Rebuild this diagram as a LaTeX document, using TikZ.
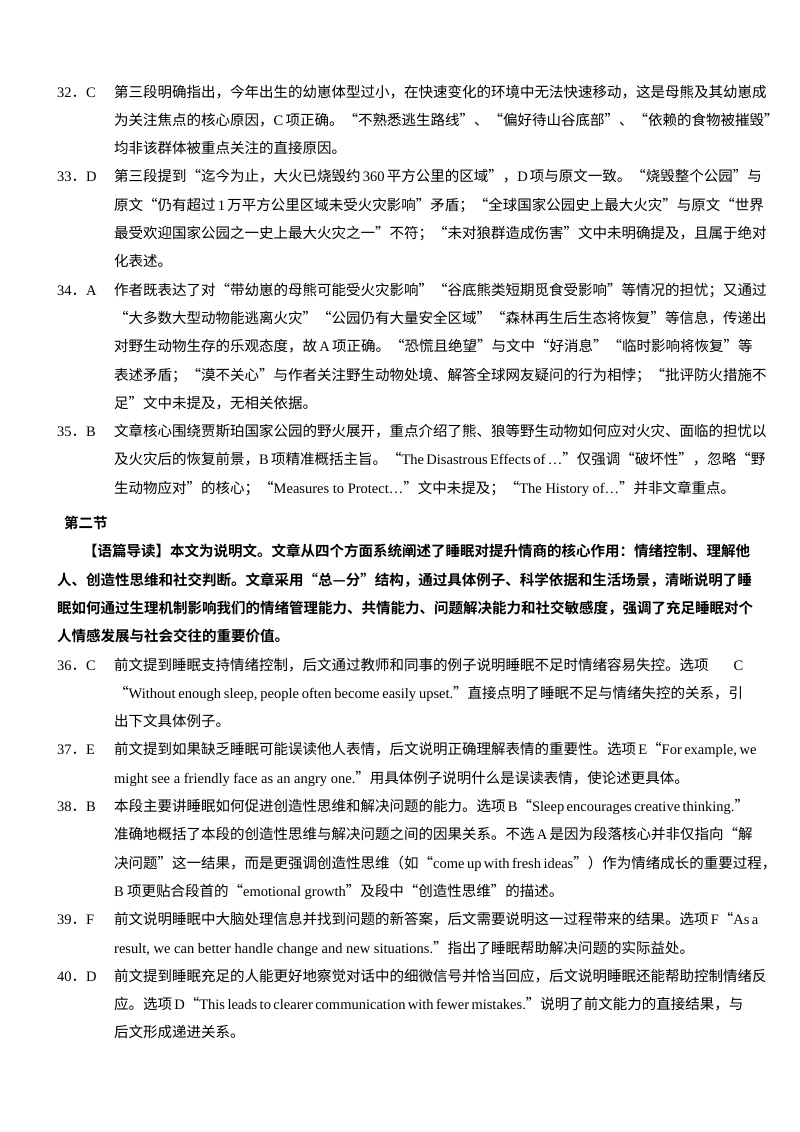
\documentclass[tikz,border=0pt]{standalone}
\usepackage{fontspec}
\setmainfont{Noto Sans CJK SC}[BoldFont={Noto Sans CJK SC Bold}]
\newfontfamily\en{Liberation Serif}
\XeTeXinterchartokenstate=1
\XeTeXinterchartoks 1 1 = {\hskip 0pt plus 1fil\relax}
\XeTeXinterchartoks 1 2 = {\hskip 0pt plus 1fil\relax}
\XeTeXinterchartoks 1 3 = {\hskip 0pt plus 1fil\relax}
\XeTeXinterchartoks 2 1 = {\hskip 0pt plus 1fil\relax}
\XeTeXinterchartoks 3 1 = {\hskip 0pt plus 1fil\relax}
\XeTeXinterchartoks 3 2 = {\hskip 0pt plus 1fil\relax}
\XeTeXinterchartoks 3 3 = {\hskip 0pt plus 1fil\relax}
\XeTeXinterchartoks 2 2 = {\hskip 0pt plus 1fil\relax}
\XeTeXinterchartoks 0 1 = {\hskip 0pt plus 1fil\relax}
\XeTeXinterchartoks 1 0 = {\hskip 0pt plus 1fil\relax}
\newcommand\J[1]{\makebox[629pt][s]{#1}}
\newcommand\JG[1]{\makebox[686pt][s]{#1}}
\newcommand\JF[1]{\makebox[660pt][s]{#1}}
\newcommand\qn[2]{{\en #1}．{\en #2}}
\tikzset{ln/.style={anchor=base west,inner sep=0pt,font=\fontsize{14.5}{17}\selectfont},
 bl/.style={ln,font=\fontsize{14.5}{17}\selectfont\bfseries}}
\begin{document}
\begin{tikzpicture}[x=1pt,y=-1pt]
\useasboundingbox (0,0) rectangle (800,1132);
\node[ln] (n32) at (57,97) {\qn{32}{C}};
\node[ln] (a1) at (114,97) {\J{第三段明确指出，今年出生的幼崽体型过小，在快速变化的环境中无法快速移动，这是母熊及其幼崽成}};
\node[ln] (a2) at (114,125.3) {\J{为关注焦点的核心原因，{\en C} 项正确。“不熟悉逃生路线”、“偏好待山谷底部”、“依赖的食物被摧毁”}};
\node[ln] (a3) at (114,153.6) {均非该群体被重点关注的直接原因。};
\node[ln] (n33) at (57,181.9) {\qn{33}{D}};
\node[ln] (b1) at (114,181.9) {\J{第三段提到“迄今为止，大火已烧毁约 {\en 360} 平方公里的区域”，{\en D} 项与原文一致。“烧毁整个公园”与}};
\node[ln] (b2) at (114,210.2) {\J{原文“仍有超过 {\en 1} 万平方公里区域未受火灾影响”矛盾；“全球国家公园史上最大火灾”与原文“世界}};
\node[ln] (b3) at (114,238.5) {\J{最受欢迎国家公园之一史上最大火灾之一”不符；“未对狼群造成伤害”文中未明确提及，且属于绝对}};
\node[ln] (b4) at (114,266.8) {化表述。};
\node[ln] (n34) at (57,295.1) {\qn{34}{A}};
\node[ln] (c1) at (114,295.1) {\J{作者既表达了对“带幼崽的母熊可能受火灾影响”“谷底熊类短期觅食受影响”等情况的担忧；又通过}};
\node[ln] (c2) at (114,323.4) {\J{“大多数大型动物能逃离火灾”“公园仍有大量安全区域”“森林再生后生态将恢复”等信息，传递出}};
\node[ln] (c3) at (114,351.7) {\J{对野生动物生存的乐观态度，故 {\en A} 项正确。“恐慌且绝望”与文中“好消息”“临时影响将恢复”等}};
\node[ln] (c4) at (114,380) {\J{表述矛盾；“漠不关心”与作者关注野生动物处境、解答全球网友疑问的行为相悖；“批评防火措施不}};
\node[ln] (c5) at (114,408.3) {足”文中未提及，无相关依据。};
\node[ln] (n35) at (57,436.6) {\qn{35}{B}};
\node[ln] (d1) at (114,436.6) {\J{文章核心围绕贾斯珀国家公园的野火展开，重点介绍了熊、狼等野生动物如何应对火灾、面临的担忧以}};
\node[ln] (d2) at (114,464.9) {\J{及火灾后的恢复前景，{\en B} 项精准概括主旨。“{\en The Disastrous Effects of …}”仅强调“破坏性”，忽略“野}};
\node[ln] (d3) at (114,493.2) {生动物应对”的核心；“{\en Measures to Protect…}”文中未提及；“{\en The History of…}”并非文章重点。};
\node[bl] (sec) at (64,528.5) {第二节};
\node[bl] (g1) at (83,556.8) {\JF{【语篇导读】本文为说明文。文章从四个方面系统阐述了睡眠对提升情商的核心作用：情绪控制、理解他}};
\node[bl] (g2) at (57,585.1) {\JG{人、创造性思维和社交判断。文章采用“总—分”结构，通过具体例子、科学依据和生活场景，清晰说明了睡}};
\node[bl] (g3) at (57,613.4) {\JG{眠如何通过生理机制影响我们的情绪管理能力、共情能力、问题解决能力和社交敏感度，强调了充足睡眠对个}};
\node[bl] (g4) at (57,641.7) {人情感发展与社会交往的重要价值。};
\node[ln] (n36) at (57,670) {\qn{36}{C}};
\node[ln] (e1) at (114,670) {\J{前文提到睡眠支持情绪控制，后文通过教师和同事的例子说明睡眠不足时情绪容易失控。选项 {\en C}}};
\node[ln] (e2) at (114,698.3) {\J{“{\en Without enough sleep, people often become easily upset.}”直接点明了睡眠不足与情绪失控的关系，引}};
\node[ln] (e3) at (114,726.6) {出下文具体例子。};
\node[ln] (n37) at (57,754.9) {\qn{37}{E}};
\node[ln] (f1) at (114,754.9) {\J{前文提到如果缺乏睡眠可能误读他人表情，后文说明正确理解表情的重要性。选项 {\en E}“{\en For example, we}}};
\node[ln] (f2) at (114,783.2) {{\en might see a friendly face as an angry one.}”用具体例子说明什么是误读表情，使论述更具体。};
\node[ln] (n38) at (57,811.5) {\qn{38}{B}};
\node[ln] (h1) at (114,811.5) {\J{本段主要讲睡眠如何促进创造性思维和解决问题的能力。选项 {\en B}“{\en Sleep encourages creative thinking.}”}};
\node[ln] (h2) at (114,839.8) {\J{准确地概括了本段的创造性思维与解决问题之间的因果关系。不选 {\en A} 是因为段落核心并非仅指向“解}};
\node[ln] (h3) at (114,868.1) {\J{决问题”这一结果，而是更强调创造性思维（如“{\en come up with fresh ideas}”）作为情绪成长的重要过程，}};
\node[ln] (h4) at (114,896.4) {{\en B} 项更贴合段首的“{\en emotional growth}”及段中“创造性思维”的描述。};
\node[ln] (n39) at (57,924.7) {\qn{39}{F}};
\node[ln] (i1) at (114,924.7) {\J{前文说明睡眠中大脑处理信息并找到问题的新答案，后文需要说明这一过程带来的结果。选项 {\en F}“{\en As a}}};
\node[ln] (i2) at (114,953) {{\en result, we can better handle change and new situations.}”指出了睡眠帮助解决问题的实际益处。};
\node[ln] (n40) at (57,981.3) {\qn{40}{D}};
\node[ln] (k1) at (114,981.3) {\J{前文提到睡眠充足的人能更好地察觉对话中的细微信号并恰当回应，后文说明睡眠还能帮助控制情绪反}};
\node[ln] (k2) at (114,1009.6) {\J{应。选项 {\en D}“{\en This leads to clearer communication with fewer mistakes.}”说明了前文能力的直接结果，与}};
\node[ln] (k3) at (114,1037.9) {后文形成递进关系。};
\end{tikzpicture}
\end{document}
